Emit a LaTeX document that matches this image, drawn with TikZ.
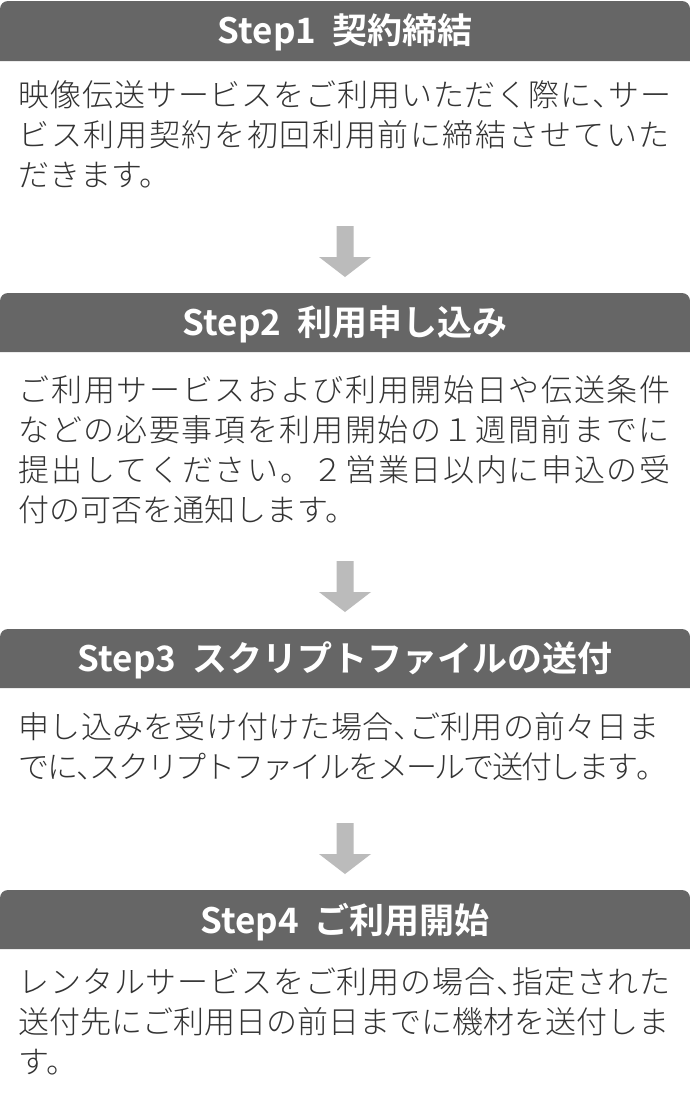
\documentclass[tikz,border=0pt]{standalone}
\usepackage{fontspec}
\IfFontExistsTF{Noto Sans CJK JP Light}
  {\newfontfamily\jpbody{Noto Sans CJK JP Light}}
  {\IfFontExistsTF{Noto Sans CJK JP DemiLight}
    {\newfontfamily\jpbody{Noto Sans CJK JP DemiLight}}
    {\newfontfamily\jpbody{Noto Sans CJK JP}}}
\newfontfamily\jphead{Noto Sans CJK JP Bold}
\newcommand\hten{\makebox[0.5em][l]{、}}
\def\spreadA#1{\ifx#1\relax\else#1\hskip 0pt plus 1fil minus 3pt\expandafter\spreadA\fi}
\newcommand\jline[2]{\hbox to #1{\spreadA#2\relax\unskip}}
\definecolor{hdrgray}{HTML}{666666}
\definecolor{arrgray}{HTML}{BBBBBB}
\definecolor{txtgray}{HTML}{333333}
\begin{document}
\begin{tikzpicture}[x=1pt,y=-1pt,
  hdrbar/.style={fill=hdrgray, rounded corners=8pt},
  hdrtxt/.style={anchor=base, inner sep=0pt, text=white, font=\jphead\fontsize{35}{40}\selectfont},
  bodytxt/.style={anchor=base west, inner sep=0pt, text=txtgray, font=\jpbody\fontsize{31}{40}\selectfont},
  downarrow/.style={fill=arrgray}]
\useasboundingbox (0,0) rectangle (690,1100);
\fill[white] (0,0) rectangle (690,1100);

% Step 1
\fill[hdrbar] (0,61) -- (0,1) -- (690,1) -- (690,61);
\node[hdrtxt] (h1) at (345,43) {Step1 \hspace{8pt}契約締結};
\node[bodytxt] (b1a) at (18.5,106) {\jline{653pt}{映像伝送サービスをご利用いただく際に\hten サー}};
\node[bodytxt] (b1b) at (18.5,146) {\jline{651pt}{ビス利用契約を初回利用前に締結させていた}};
\node[bodytxt] (b1c) at (18.5,186) {だきます。};

% arrow 1
\fill[downarrow] (336.5,226) -- (353.5,226) -- (353.5,257) -- (371,257) -- (345,277) -- (319,257) -- (336.5,257) -- cycle;

% Step 2
\fill[hdrbar] (0,352) -- (0,293) -- (690,293) -- (690,352);
\node[hdrtxt] (h2) at (345,335) {Step2 \hspace{8pt}利用申し込み};
\node[bodytxt] (b2a) at (18.5,401) {\jline{652pt}{ご利用サービスおよび利用開始日や伝送条件}};
\node[bodytxt] (b2b) at (18.5,441) {\jline{651pt}{などの必要事項を利用開始の１週間前までに}};
\node[bodytxt] (b2c) at (18.5,481) {\jline{652pt}{提出してください。２営業日以内に申込の受}};
\node[bodytxt] (b2d) at (18.5,521) {付の可否を通知します。};

% arrow 2
\fill[downarrow] (336.5,561) -- (353.5,561) -- (353.5,592) -- (371,592) -- (345,612) -- (319,592) -- (336.5,592) -- cycle;

% Step 3
\fill[hdrbar] (0,688) -- (0,629) -- (690,629) -- (690,688);
\node[hdrtxt] (h3) at (345,671) {Step3 \hspace{8pt}スクリプトファイルの送付};
\node[bodytxt] (b3a) at (18.5,738) {\jline{640.5pt}{申し込みを受け付けた場合\hten ご利用の前々日ま}};
\node[bodytxt] (b3b) at (18.5,778) {\jline{648.5pt}{でに\hten スクリプトファイルをメールで送付します。}};

% arrow 3
\fill[downarrow] (336.5,823) -- (353.5,823) -- (353.5,854) -- (371,854) -- (345,874) -- (319,854) -- (336.5,854) -- cycle;

% Step 4
\fill[hdrbar] (0,949) -- (0,890) -- (690,890) -- (690,949);
\node[hdrtxt] (h4) at (345,933) {Step4 \hspace{8pt}ご利用開始};
\node[bodytxt] (b4a) at (18.5,993) {\jline{652pt}{レンタルサービスをご利用の場合\hten 指定された}};
\node[bodytxt] (b4b) at (18.5,1033) {\jline{651pt}{送付先にご利用日の前日までに機材を送付しま}};
\node[bodytxt] (b4c) at (18.5,1073) {す。};
\end{tikzpicture}
\end{document}
